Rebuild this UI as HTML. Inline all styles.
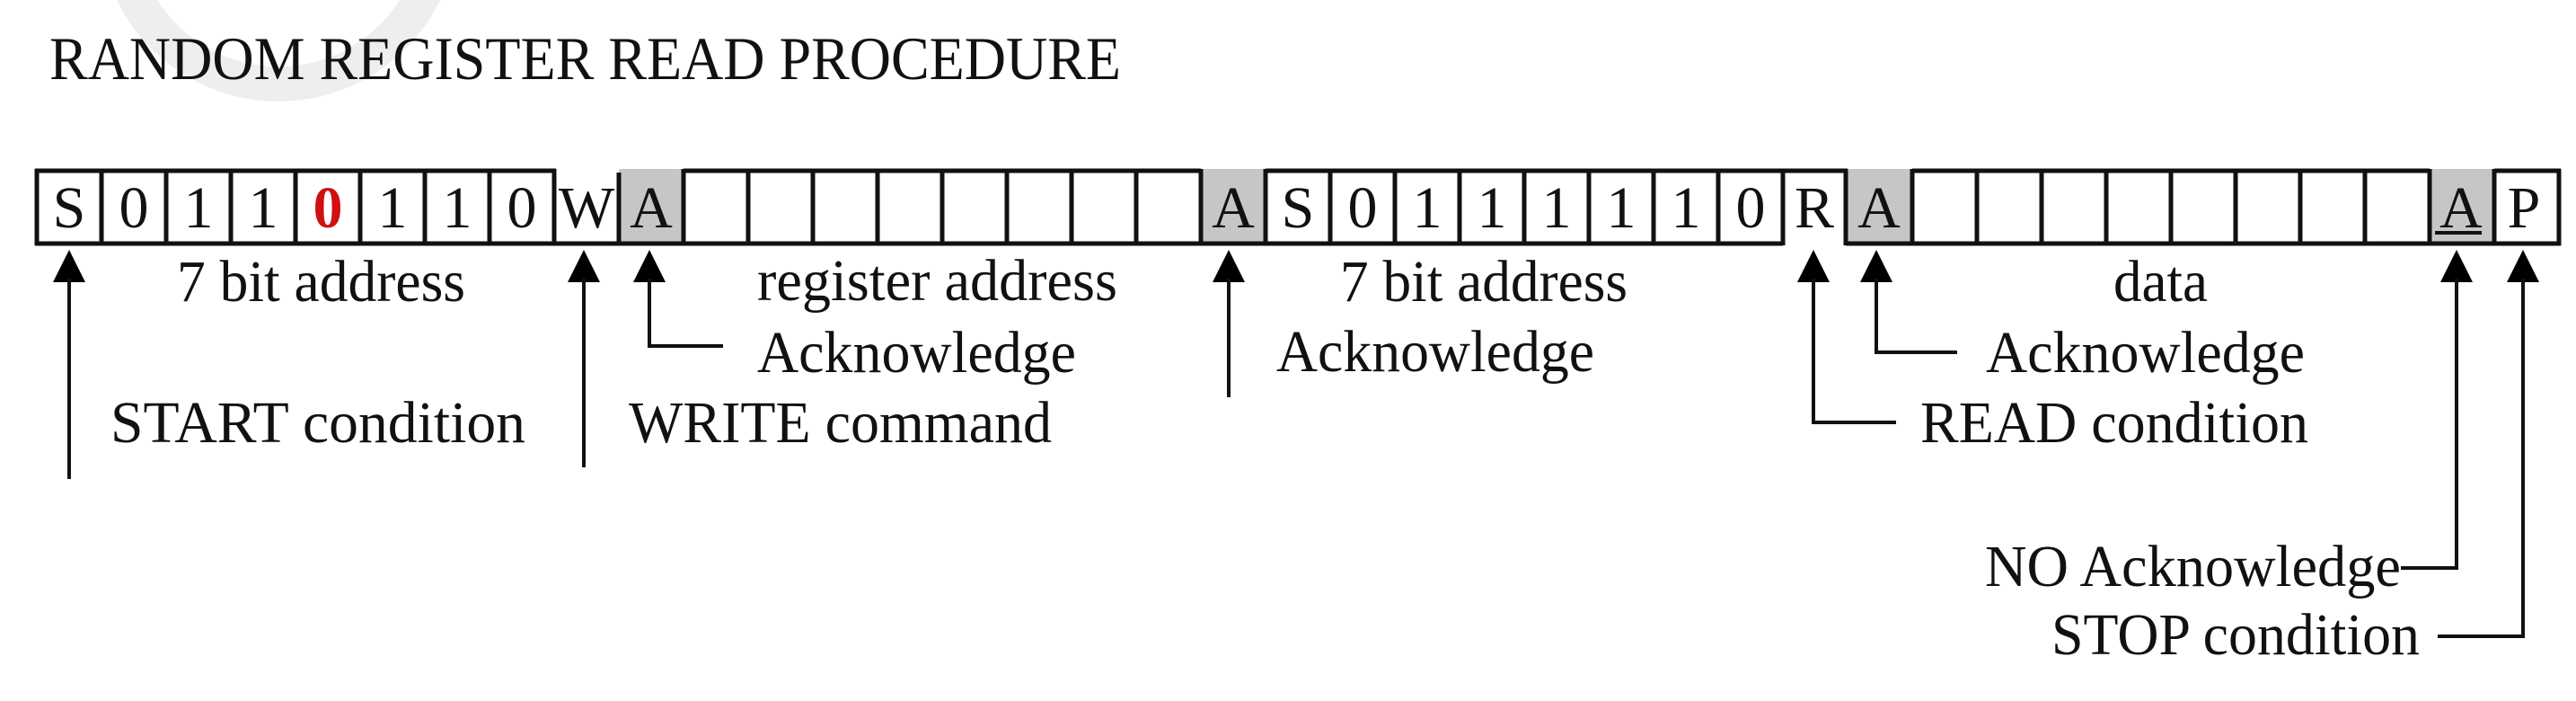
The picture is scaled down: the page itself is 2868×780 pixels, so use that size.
<!DOCTYPE html>
<html><head><meta charset="utf-8"><style>
html,body{margin:0;padding:0;background:#fff;}
svg{display:block;}
text{font-family:"Liberation Serif",serif;fill:#111;}
</style></head><body>
<svg width="2868" height="780" viewBox="0 0 2868 780" xmlns="http://www.w3.org/2000/svg">
<!-- watermark -->
<path d="M130,0 A200,200 0 0 0 490,0 L445,0 A160,160 0 0 1 175,0 Z" fill="#eeeeee"/>
<text x="55" y="88" font-size="68" textLength="1193" lengthAdjust="spacingAndGlyphs">RANDOM REGISTER READ PROCEDURE</text>

<!-- gray cells -->
<rect x="689" y="188" width="72" height="85" fill="#c6c6c6"/>
<rect x="1337" y="188" width="72" height="85" fill="#c6c6c6"/>
<rect x="2057" y="188" width="72" height="85" fill="#c6c6c6"/>
<rect x="2705" y="188" width="72" height="85" fill="#c6c6c6"/>

<g stroke="#111" stroke-width="5" fill="none">
<line x1="39" y1="190" x2="619" y2="190"/>
<line x1="761" y1="190" x2="1337" y2="190"/>
<line x1="1409" y1="190" x2="2057" y2="190"/>
<line x1="2129" y1="190" x2="2705" y2="190"/>
<line x1="2777" y1="190" x2="2851" y2="190"/>
<line x1="39" y1="271" x2="1985" y2="271"/>
<line x1="2055" y1="271" x2="2851" y2="271"/>
</g>
<g stroke="#111" stroke-width="5">
<line x1="41" y1="188" x2="41" y2="273"/><line x1="113" y1="188" x2="113" y2="273"/><line x1="185" y1="188" x2="185" y2="273"/><line x1="257" y1="188" x2="257" y2="273"/><line x1="329" y1="188" x2="329" y2="273"/><line x1="401" y1="188" x2="401" y2="273"/><line x1="473" y1="188" x2="473" y2="273"/><line x1="545" y1="188" x2="545" y2="273"/><line x1="617" y1="188" x2="617" y2="273"/>
<line x1="689" y1="192" x2="689" y2="273"/><line x1="761" y1="188" x2="761" y2="273"/><line x1="833" y1="188" x2="833" y2="273"/><line x1="905" y1="188" x2="905" y2="273"/><line x1="977" y1="188" x2="977" y2="273"/><line x1="1049" y1="188" x2="1049" y2="273"/><line x1="1121" y1="188" x2="1121" y2="273"/><line x1="1193" y1="188" x2="1193" y2="273"/><line x1="1265" y1="188" x2="1265" y2="273"/><line x1="1337" y1="188" x2="1337" y2="273"/><line x1="1409" y1="188" x2="1409" y2="273"/><line x1="1481" y1="188" x2="1481" y2="273"/><line x1="1553" y1="188" x2="1553" y2="273"/><line x1="1625" y1="188" x2="1625" y2="273"/><line x1="1697" y1="188" x2="1697" y2="273"/><line x1="1769" y1="188" x2="1769" y2="273"/><line x1="1841" y1="188" x2="1841" y2="273"/><line x1="1913" y1="188" x2="1913" y2="273"/><line x1="1985" y1="188" x2="1985" y2="273"/>
<line x1="2055" y1="188" x2="2055" y2="273"/><line x1="2129" y1="188" x2="2129" y2="273"/><line x1="2201" y1="188" x2="2201" y2="273"/><line x1="2273" y1="188" x2="2273" y2="273"/><line x1="2345" y1="188" x2="2345" y2="273"/><line x1="2417" y1="188" x2="2417" y2="273"/><line x1="2489" y1="188" x2="2489" y2="273"/><line x1="2561" y1="188" x2="2561" y2="273"/><line x1="2633" y1="188" x2="2633" y2="273"/><line x1="2705" y1="188" x2="2705" y2="273"/><line x1="2777" y1="188" x2="2777" y2="273"/><line x1="2849" y1="188" x2="2849" y2="273"/>
</g>

<g font-size="66" text-anchor="middle">
<text x="77" y="253">S</text><text x="149" y="253">0</text><text x="221" y="253">1</text><text x="293" y="253">1</text>
<text x="365" y="253" style="fill:#d01010;font-weight:bold">0</text>
<text x="437" y="253">1</text><text x="509" y="253">1</text><text x="581" y="253">0</text>
<text x="653" y="253">W</text><text x="725" y="253">A</text>
<text x="1373" y="253">A</text><text x="1445" y="253">S</text>
<text x="1517" y="253">0</text><text x="1589" y="253">1</text><text x="1661" y="253">1</text><text x="1733" y="253">1</text><text x="1805" y="253">1</text><text x="1877" y="253">1</text><text x="1949" y="253">0</text>
<text x="2020" y="253">R</text><text x="2092" y="253">A</text>
<text x="2740" y="253">A</text><text x="2810" y="253">P</text>
</g>
<line x1="2711" y1="259" x2="2763" y2="259" stroke="#111" stroke-width="4"/>

<g fill="#000">
<polygon points="77,278 59,314 95,314"/>
<polygon points="650,278 632,314 668,314"/>
<polygon points="723,278 705,314 741,314"/>
<polygon points="1368,278 1350,314 1386,314"/>
<polygon points="2019,278 2001,314 2037,314"/>
<polygon points="2089,278 2071,314 2107,314"/>
<polygon points="2735,278 2717,314 2753,314"/>
<polygon points="2809,278 2791,314 2827,314"/>
</g>
<g stroke="#111" stroke-width="4" fill="none">
<line x1="77" y1="310" x2="77" y2="533"/>
<line x1="650" y1="310" x2="650" y2="520"/>
<polyline points="723,310 723,385 805,385"/>
<line x1="1368" y1="310" x2="1368" y2="442"/>
<polyline points="2019,310 2019,470 2111,470"/>
<polyline points="2089,310 2089,392 2179,392"/>
<polyline points="2735,310 2735,632 2673,632"/>
<polyline points="2809,310 2809,708 2714,708"/>
</g>

<g font-size="66">
<text x="197" y="335" textLength="321" lengthAdjust="spacingAndGlyphs">7 bit address</text>
<text x="843" y="334" textLength="401" lengthAdjust="spacingAndGlyphs">register address</text>
<text x="843" y="414" textLength="355" lengthAdjust="spacingAndGlyphs">Acknowledge</text>
<text x="123" y="492" textLength="462" lengthAdjust="spacingAndGlyphs">START condition</text>
<text x="700" y="492" textLength="471" lengthAdjust="spacingAndGlyphs">WRITE command</text>
<text x="1492" y="335" textLength="320" lengthAdjust="spacingAndGlyphs">7 bit address</text>
<text x="1421" y="413" textLength="354" lengthAdjust="spacingAndGlyphs">Acknowledge</text>
<text x="2353" y="335" textLength="105" lengthAdjust="spacingAndGlyphs">data</text>
<text x="2211" y="414" textLength="355" lengthAdjust="spacingAndGlyphs">Acknowledge</text>
<text x="2138" y="492" textLength="432" lengthAdjust="spacingAndGlyphs">READ condition</text>
<text x="2210" y="652" textLength="463" lengthAdjust="spacingAndGlyphs">NO Acknowledge</text>
<text x="2284" y="728" textLength="410" lengthAdjust="spacingAndGlyphs">STOP condition</text>
</g>
</svg>
</body></html>
